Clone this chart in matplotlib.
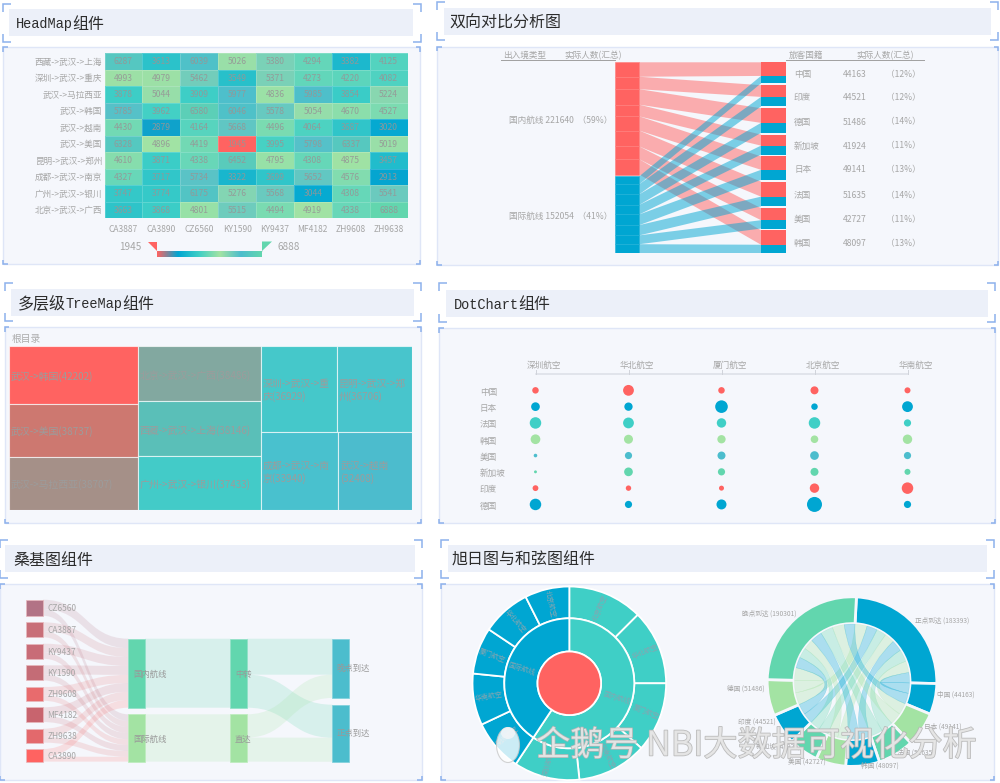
import numpy as np
import matplotlib
matplotlib.use('Agg')
import matplotlib.pyplot as plt
from matplotlib.colors import LinearSegmentedColormap
from matplotlib.patches import Rectangle, Polygon, PathPatch, Ellipse
from matplotlib.path import Path
import matplotlib.patheffects as pe

plt.rcParams['font.family'] = ['Noto Sans CJK SC', 'DejaVu Sans']

# ---------- data ----------
routes = ['西藏->武汉->上海', '深圳->武汉->重庆', '武汉->马拉西亚', '武汉->韩国', '武汉->越南',
          '武汉->美国', '昆明->武汉->郑州', '成都->武汉->南京', '广州->武汉->银川', '北京->武汉->广西']
flights = ['CA3887', 'CA3890', 'CZ6560', 'KY1590', 'KY9437', 'MF4182', 'ZH9608', 'ZH9638']
heat_values = [
    [6287, 3613, 6039, 5026, 5380, 4294, 3382, 4125],
    [4993, 4979, 5462, 3549, 5371, 4273, 4220, 4082],
    [3878, 5044, 3909, 5977, 4836, 5985, 3854, 5224],
    [5785, 3962, 6580, 6046, 5578, 5054, 4670, 4527],
    [4430, 2879, 4164, 5668, 4496, 4064, 3687, 3020],
    [6328, 4896, 4419, 1945, 3995, 5798, 6337, 5019],
    [4610, 3871, 4338, 6452, 4795, 4308, 4875, 3457],
    [4327, 3717, 5734, 3322, 3699, 5652, 4576, 2913],
    [3747, 3774, 6175, 5276, 5568, 3044, 4308, 5541],
    [3663, 3868, 4801, 5515, 4494, 4919, 4338, 6888],
]
countries = ['中国', '印度', '德国', '新加坡', '日本', '法国', '美国', '韩国']
country_domestic = [28540, 24570, 30640, 23058, 28050, 31359, 25258, 30165]
country_intl = [15623, 19951, 20846, 18866, 21091, 20276, 17469, 17932]
entry_types = ['国内航线', '国际航线']

tree_col1 = ['武汉->韩国', '武汉->美国', '武汉->马拉西亚']
tree_col1_vals = [42202, 38737, 38707]
tree_col2 = ['北京->武汉->广西', '西藏->武汉->上海', '广州->武汉->银川']
tree_col2_vals = [38486, 38146, 37433]
tree_top = ['深圳->武汉->重\n庆', '昆明->武汉->郑\n州']
tree_top_vals = [36929, 36706]
tree_bot = ['成都->武汉->南\n京', '武汉->越南\n']
tree_bot_vals = [33940, 32408]

airlines = ['深圳航空', '华北航空', '厦门航空', '北京航空', '华南航空']
dot_countries = ['中国', '日本', '法国', '韩国', '美国', '新加坡', '印度', '德国']
dot_values = [
    [6500, 10800, 6500, 8000, 6000],
    [8700, 8300, 12600, 6500, 10800],
    [11500, 10800, 9400, 11500, 7200],
    [9700, 9000, 8300, 7600, 9400],
    [3600, 7200, 8000, 8700, 7200],
    [2900, 8700, 7200, 8000, 6000],
    [5800, 5400, 5000, 9400, 11500],
    [11500, 7200, 10000, 15000, 7200],
]

sankey_flights = ['CZ6560', 'CA3887', 'KY9437', 'KY1590', 'ZH9608', 'MF4182', 'ZH9638', 'CA3890']
sankey_domestic = [30500, 28400, 28500, 28800, 26200, 28000, 26400, 24840]
sankey_totals = [51621, 48048, 48212, 48776, 44247, 47391, 44796, 40603]
transfer_types = ['中转', '直达']
arrival_types = ['晚点到达', '正点到达']
transfer_to_arrival = [[115600, 106040], [74701, 77353]]

sun_teal = [46712, 46712, 43598, 43598, 41020]
sun_blue = [32491, 32180, 29065, 30519, 27799]
sun_teal_names = ['北京航空', '华北航空', '厦门航空', '华南航空', '深圳航空']
sun_blue_names = ['深圳航空', '华南航空', '厦门航空', '华北航空', '北京航空']

chord_names = ['正点到达', '中国', '日本', '法国', '韩国', '美国', '新加坡', '印度', '德国', '晚点到达']
chord_values = [183393, 44163, 49141, 51635, 48097, 42727, 41924, 44521, 51486, 190301]
chord_ontime = [21700, 24100, 25300, 23600, 21000, 20500, 21900, 25293]

# ---------- style ----------
W, H = 1000, 783
RED, BLUE, TEAL, GREEN, STEEL, MINT = '#ff6361', '#00a6d2', '#3fcfc6', '#a3e3a3', '#4cbdcd', '#62d6ae'
BRACKET = '#8db1ec'
TXT = '#a6a6a6'
fig = plt.figure(figsize=(W / 100, H / 100), dpi=100, facecolor='white')


def pxax(x0, y0, x1, y1, xlim=None, ylim=None, z=2):
    ax = fig.add_axes([x0 / W, 1 - y1 / H, (x1 - x0) / W, (y1 - y0) / H], zorder=z)
    ax.set_axis_off()
    ax.patch.set_visible(False)
    ax.set_xlim(*(xlim if xlim else (x0, x1)))
    ax.set_ylim(*(ylim if ylim else (y1, y0)))
    return ax


bg = pxax(0, 0, W, H, z=0)
top = pxax(0, 0, W, H, z=10)


def brackets(x0, y0, x1, y1, arm):
    for (cx, cy, sx, sy) in [(x0, y0, 1, 1), (x1, y0, -1, 1), (x0, y1, 1, -1), (x1, y1, -1, -1)]:
        bg.plot([cx + sx * arm, cx, cx], [cy, cy, cy + sy * arm], color=BRACKET, lw=1.1, solid_capstyle='butt',
                solid_joinstyle='miter', zorder=5)


def runs_text(x, y, runs):
    rend = fig.canvas.get_renderer()
    for s, fam, size in runs:
        t = bg.text(x, y, s, family=fam, fontsize=size, color='#2c2c2c', va='center', ha='left', zorder=6)
        x = t.get_window_extent(rend).x1


CJK = 'Noto Sans CJK SC'
MONO = 'Liberation Mono'
panels = [
    ((9, 9, 413, 36), (2.5, 3.5, 420.5, 42), (3, 47, 420, 264), 15.5, [('HeadMap', MONO, 9.8), ('组件', CJK, 11.5)]),
    ((444, 8, 991, 35), (437, 2, 998, 40), (437, 46.5, 998, 265), 449.5, [('双向对比分析图', CJK, 11.5)]),
    ((11, 289, 414, 316), (4.5, 283, 421, 321), (4.5, 327, 421, 523), 17.5,
     [('多层级', CJK, 11.5), ('TreeMap', MONO, 9.8), ('组件', CJK, 11.5)]),
    ((446, 290, 988, 317), (439, 283, 995, 322), (439, 328, 995, 523), 453.5,
     [('DotChart', MONO, 9.8), ('组件', CJK, 11.5)]),
    ((5, 545, 415, 572), (0, 539.7, 421.5, 578), (0, 584, 421.5, 780), 13, [('桑基图组件', CJK, 11.5)]),
    ((448, 545, 987, 572), (441, 540, 994, 578), (441, 584, 994, 780), 451.5, [('旭日图与和弦图组件', CJK, 11.5)]),
]
for tb, br, ct, tx, runs in panels:
    bg.add_patch(Rectangle((tb[0], tb[1]), tb[2] - tb[0], tb[3] - tb[1], fc='#ecf0f9', ec='none'))
    bg.add_patch(Rectangle((ct[0], ct[1]), ct[2] - ct[0], ct[3] - ct[1], fc='#f5f7fc', ec='#dfe6f7', lw=1))
    brackets(*br, 8)
    brackets(*ct, 4.5)
    runs_text(tx, (tb[1] + tb[3]) / 2 + 1.5, runs)

# ---------- heat map ----------
heat = np.array(heat_values)
vmin, vmax = heat.min(), heat.max()
heat_cmap = LinearSegmentedColormap.from_list('heat', [RED, BLUE, TEAL, GREEN, STEEL, MINT])
ax = pxax(104.5, 53, 407.5, 218, xlim=(0, len(flights)), ylim=(len(routes), 0))
ax.pcolormesh(np.arange(len(flights) + 1), np.arange(len(routes) + 1), heat, cmap=heat_cmap, vmin=vmin, vmax=vmax,
              edgecolors=(1, 1, 1, 0.18), linewidth=0.5)
for r, row in enumerate(heat):
    for c, v in enumerate(row):
        ax.text(c + .5, r + .52, str(v), ha='center', va='center', fontsize=6.2, color='#969696', alpha=.9)
    ax.text(-0.06, r + .56, routes[r], ha='right', va='center', fontsize=6.2, color=TXT, clip_on=False)
for c, f in enumerate(flights):
    ax.text(c + .5, len(routes) + .68, f, ha='center', va='center', fontsize=6.1, color=TXT, clip_on=False)
lg = pxax(157, 251, 262, 257.5)
lg.imshow(np.linspace(0, 1, 256)[None, :], cmap=heat_cmap, aspect='auto', extent=(157, 262, 257.5, 251))
lg.set_xlim(157, 262); lg.set_ylim(257.5, 251)
bg.add_patch(Polygon([(147.5, 241.5), (157, 241.5), (157, 251)], fc=RED, ec='none', zorder=3))
bg.add_patch(Polygon([(262, 241.5), (272, 241.5), (262, 251)], fc=MINT, ec='none', zorder=3))
bg.plot([157, 262], [251, 251], color='#d9dbe0', lw=.6, zorder=3)
bg.text(142, 246.5, str(vmin), ha='right', va='center', fontsize=7.2, color=TXT, zorder=6)
bg.text(277, 246.5, str(vmax), ha='left', va='center', fontsize=7.2, color=TXT, zorder=6)

# ---------- two-way comparison ----------
dom = np.array(country_domestic); intl = np.array(country_intl)
total = dom + intl
grand = total.sum()
ax = pxax(614.8, 62.3, 785.5, 253.3)
LX0, LX1, RX0, RX1 = 614.8, 639.3, 761, 785.5
y_top, y_bot = 62.3, 253.3
l_scale = (y_bot - y_top - 1.8) / grand
r_gap = 1.8
r_scale = (y_bot - y_top - r_gap * (len(total) - 1)) / grand
ly_red = y_top + np.concatenate([[0], np.cumsum(dom)]) * l_scale
ly_blue = ly_red[-1] + 1.8 + np.concatenate([[0], np.cumsum(intl)]) * l_scale
ry0 = y_top + np.concatenate([[0], np.cumsum(total)[:-1]]) * r_scale + np.arange(len(total)) * r_gap
ry1 = ry0 + dom * r_scale
ry2 = ry1 + intl * r_scale
for i in range(len(total)):
    ax.add_patch(Polygon([(LX1, ly_red[i]), (RX0, ry0[i]), (RX0, ry1[i]), (LX1, ly_red[i + 1])],
                         fc=RED, alpha=.5, ec='none', zorder=1))
for i in range(len(total)):
    ax.add_patch(Polygon([(LX1, ly_blue[i]), (RX0, ry1[i]), (RX0, ry2[i]), (LX1, ly_blue[i + 1])],
                         fc=BLUE, alpha=.5, ec='none', zorder=2))
for i in range(len(total)):
    ax.add_patch(Rectangle((LX0, ly_red[i]), LX1 - LX0, ly_red[i + 1] - ly_red[i], fc=RED, ec='#ff7d7b', lw=.4, zorder=3))
    ax.add_patch(Rectangle((LX0, ly_blue[i]), LX1 - LX0, ly_blue[i + 1] - ly_blue[i], fc=BLUE, ec='#1bb0d8', lw=.4, zorder=3))
    ax.add_patch(Rectangle((RX0, ry0[i]), RX1 - RX0, ry1[i] - ry0[i], fc=RED, ec='none', zorder=3))
    ax.add_patch(Rectangle((RX0, ry1[i]), RX1 - RX0, ry2[i] - ry1[i], fc=BLUE, ec='none', zorder=3))
    yc = (ry0[i] + ry2[i]) / 2 + 1.5
    top.text(794, yc, countries[i], ha='left', va='center', fontsize=6.2, color=TXT)
    top.text(843, yc, str(total[i]), ha='left', va='center', fontsize=6.2, color=TXT)
    top.text(886, yc, '（%d%%）' % round(total[i] / grand * 100), ha='left', va='center', fontsize=6.2, color=TXT)
for name, vals, yc in zip(entry_types, [dom, intl], [(ly_red[0] + ly_red[-1]) / 2, (ly_blue[0] + ly_blue[-1]) / 2]):
    s = vals.sum()
    top.text(509, yc + 1.5, '%s %d  （%d%%）' % (name, s, round(s / grand * 100)), ha='left', va='center', fontsize=6.2, color=TXT)
for s, x in [('出入境类型', 525), ('实际人数(汇总)', 593), ('旅客国籍', 806), ('实际人数(汇总)', 885.5)]:
    top.text(x, 55.5, s, ha='center', va='center', fontsize=6.2, color=TXT)
top.plot([501, 615], [60.3, 60.3], color='#a0a0a0', lw=.7)
top.plot([785.5, 923.5], [60.3, 60.3], color='#a0a0a0', lw=.7)

# ---------- tree map ----------
ax = pxax(8.5, 346, 412, 510, xlim=(0, 1), ylim=(1, 0))
tree_total = sum(tree_col1_vals) + sum(tree_col2_vals) + sum(tree_top_vals) + sum(tree_bot_vals)
tree_colors = ['#ff6361', '#cd7870', '#a59088', '#82a8a0', '#5abfb8', '#43cbc8', '#45c8ca', '#48c5cc', '#49c1ce', '#4cbccd']
cells = []
x = 0
for names, vals in [(tree_col1, tree_col1_vals), (tree_col2, tree_col2_vals)]:
    w = sum(vals) / tree_total
    y = 0
    for n, v in zip(names, vals):
        h = v / sum(vals)
        cells.append((x, y, w, h, n, v))
        y += h
    x += w
w_rest = 1 - x
y = 0
for names, vals in [(tree_top, tree_top_vals), (tree_bot, tree_bot_vals)]:
    h = sum(vals) / (sum(tree_top_vals) + sum(tree_bot_vals))
    xx = x
    for n, v in zip(names, vals):
        w = v / sum(vals) * w_rest
        cells.append((xx, y, w, h, n, v))
        xx += w
    y += h
for (cx, cy, cw, ch, n, v), col in zip(cells, tree_colors):
    ax.add_patch(Rectangle((cx, cy), cw, ch, fc=col, ec=(1, 1, 1, .65), lw=.8))
    label = n + '(%d)' % v
    ax.text(cx + 2 / 403.5, cy + ch / 2 + 1.5 / 164, label, ha='left', va='center', fontsize=7.1, color='#9c9c9c', linespacing=1.25)
top.text(12, 339, '根目录', ha='left', va='center', fontsize=7, color='#ababab')

# ---------- dot chart ----------
rowcol = [RED, BLUE, TEAL, GREEN, STEEL, MINT, RED, BLUE]
ax = pxax(490, 382, 950, 513, xlim=(-.489, 4.457), ylim=(7.525, -.512))
dots = np.array(dot_values)
for r in range(len(dot_countries)):
    ax.scatter(np.arange(len(airlines)), np.full(len(airlines), r), s=(dots[r] / 1000 * .72) ** 2, color=rowcol[r],
               linewidths=0, clip_on=False)
    ax.text(-.60, r + .11, dot_countries[r], ha='left', va='center', fontsize=6.2, color=TXT)
hx = np.linspace(535.7, 908, len(airlines))
top.plot([hx[0], hx[-1]], [373.7, 373.7], color='#dcdfe6', lw=1.1)
for xx, name in zip(hx, airlines):
    top.plot([xx, xx], [369.5, 373.7], color='#d0d3da', lw=.7)
    top.text(xx + 8, 365, name, ha='center', va='center', fontsize=6.2, color=TXT)

# ---------- sankey ----------
sk_totals = np.array(sankey_totals); sk_dom = np.array(sankey_domestic); sk_int = sk_totals - sk_dom
ax = pxax(0, 584, 421.5, 780)
src_y0 = [599.7, 622.3, 643.7, 665.3, 687, 707.3, 728.7, 749]
sk_scale = 69.0 / sk_dom.sum()
src_colors = ['#b27385', '#c86f78', '#c86c77', '#c46c76', '#e86b6d', '#c8646e', '#e3696c', RED]


def band(ax, x0, y0a, y0b, x1, y1a, y1b, color, alpha, z=1):
    xm = (x0 + x1) / 2
    verts = [(x0, y0a), (xm, y0a), (xm, y1a), (x1, y1a), (x1, y1b), (xm, y1b), (xm, y0b), (x0, y0b), (x0, y0a)]
    codes = [Path.MOVETO, Path.CURVE4, Path.CURVE4, Path.CURVE4, Path.LINETO, Path.CURVE4, Path.CURVE4, Path.CURVE4, Path.CLOSEPOLY]
    ax.add_patch(PathPatch(Path(verts, codes), fc=color, alpha=alpha, ec='none', zorder=z))


C0 = (26.3, 43); C1 = (128.3, 145); C2 = (230.3, 247); C3 = (332.3, 349)
dom_top, int_top = 638.7, 714.3
dom_cur, int_cur = dom_top, int_top
for i, name in enumerate(sankey_flights):
    y0 = src_y0[i]
    h = sk_totals[i] * sk_scale
    ax.add_patch(Rectangle((C0[0], y0), C0[1] - C0[0], h, fc=src_colors[i], ec='#e8b8bc', lw=.5, zorder=3))
    top.text(47.3, y0 + h / 2 + 1, name, ha='left', va='center', fontsize=6, color=TXT)
    h_d = sk_dom[i] * sk_scale
    h_i = sk_int[i] * sk_scale
    band(ax, C0[1], y0, y0 + h_d, C1[0], dom_cur, dom_cur + h_d, src_colors[i], .17)
    band(ax, C0[1], y0 + h_d, y0 + h, C1[0], int_cur, int_cur + h_i, src_colors[i], .17)
    dom_cur += h_d
    int_cur += h_i
for x, nm, cols in [(C1, entry_types, None), (C2, transfer_types, None)]:
    ax.add_patch(Rectangle((x[0], dom_top), x[1] - x[0], dom_cur - dom_top, fc=MINT, ec='#8ee0c5', lw=.5, zorder=3))
    ax.add_patch(Rectangle((x[0], int_top), x[1] - x[0], int_cur - int_top, fc=GREEN, ec='#bcecbc', lw=.5, zorder=3))
    top.text(x[0] + 4.5, (dom_top + dom_cur) / 2 + 1, nm[0], ha='left', va='center', fontsize=6, color='#999999')
    top.text(x[0] + 4.5, (int_top + int_cur) / 2 + 1, nm[1], ha='left', va='center', fontsize=6, color='#999999')
band(ax, C1[1], dom_top, dom_cur, C2[0], dom_top, dom_cur, MINT, .2)
band(ax, C1[1], int_top, int_cur, C2[0], int_top, int_cur, GREEN, .2)
ta = np.array(transfer_to_arrival)
arr_tops = [638.7, 704.7]
h = ta * sk_scale
ax.add_patch(Rectangle((C3[0], arr_tops[0]), C3[1] - C3[0], h[:, 0].sum(), fc=STEEL, ec='#7dd0db', lw=.5, zorder=3))
ax.add_patch(Rectangle((C3[0], arr_tops[1]), C3[1] - C3[0], h[:, 1].sum(), fc=STEEL, ec='#7dd0db', lw=.5, zorder=3))
band(ax, C2[1], dom_top, dom_top + h[0, 0], C3[0], arr_tops[0], arr_tops[0] + h[0, 0], MINT, .2)
band(ax, C2[1], dom_top + h[0, 0], dom_cur, C3[0], arr_tops[1], arr_tops[1] + h[0, 1], MINT, .2)
band(ax, C2[1], int_top, int_top + h[1, 0], C3[0], arr_tops[0] + h[0, 0], arr_tops[0] + h[:, 0].sum(), GREEN, .2)
band(ax, C2[1], int_top + h[1, 0], int_cur, C3[0], arr_tops[1] + h[0, 1], arr_tops[1] + h[:, 1].sum(), GREEN, .2)
top.text(336.7, arr_tops[0] + h[:, 0].sum() / 2 + .5, arrival_types[0], ha='left', va='center', fontsize=6, color='#999999')
top.text(336.7, arr_tops[1] + h[:, 1].sum() / 2 + .5, arrival_types[1], ha='left', va='center', fontsize=6, color='#999999')

# ---------- sunburst ----------
R = 96.8
cx, cy = 569.3, 683.3
ax = pxax(cx - R - 2, cy - R - 2, cx + R + 2, cy + R + 2, xlim=(-R - 2, R + 2), ylim=(-R - 2, R + 2))
wp = dict(edgecolor='white', linewidth=1.3)
outer = sun_teal + sun_blue
ax.pie(outer, radius=96.8, colors=[TEAL] * 5 + [BLUE] * 5, startangle=90, counterclock=False,
       wedgeprops=dict(width=96.8 - 65, **wp))
ax.pie([sum(sun_teal), sum(sun_blue)], radius=65, colors=[TEAL, BLUE], startangle=90, counterclock=False,
       wedgeprops=dict(width=65 - 31.8, **wp))
ax.pie([1], radius=31.8, colors=[RED], startangle=90, wedgeprops=wp)
ax.set_xlim(-R - 2, R + 2); ax.set_ylim(-R - 2, R + 2)
ax.set_aspect('equal')


def radial(ax, r, cw_deg, s, **kw):
    th = np.deg2rad(90 - cw_deg)
    rot = np.rad2deg(th)
    if np.cos(th) < 0:
        rot += 180
    ax.text(r * np.cos(th), r * np.sin(th), s, rotation=rot, rotation_mode='anchor', ha='center', va='center',
            fontsize=5, color='#86a5b0', **kw)


ang = np.cumsum([0] + outer) / sum(outer) * 360
for nm, a0, a1 in zip(sun_teal_names + sun_blue_names, ang[:-1], ang[1:]):
    radial(ax, 82, (a0 + a1) / 2, nm)
split = sum(sun_teal) / sum(outer) * 360
radial(ax, 50, split / 2, entry_types[0])
radial(ax, 50, (split + 360) / 2, entry_types[1])

# ---------- chord ----------
R2, r2 = 84.8, 58
cx2, cy2 = 852, 681.6
START = 3
ax = pxax(cx2 - R2 - 1, cy2 - R2 - 1, cx2 + R2 + 1, cy2 + R2 + 1, xlim=(-R2 - 1, R2 + 1), ylim=(-R2 - 1, R2 + 1))
chord_colors = [BLUE, BLUE, GREEN, MINT, BLUE, GREEN, MINT, BLUE, GREEN, MINT]
ax.pie(chord_values, radius=R2, colors=chord_colors, startangle=90 - START, counterclock=False,
       wedgeprops=dict(width=R2 - r2, edgecolor='#f5f7fc', linewidth=2))
ax.set_xlim(-R2 - 1, R2 + 1); ax.set_ylim(-R2 - 1, R2 + 1)
ax.set_aspect('equal')
cv = np.array(chord_values, float)
edges = START + np.concatenate([[0], np.cumsum(cv)]) / cv.sum() * 360
per_unit = 360 / cv.sum()


def pt(deg, r):
    t = np.deg2rad(90 - deg)
    return r * np.cos(t), r * np.sin(t)


def ribbon(a0, a1, b0, b1, col):
    rr = r2 - .5
    v = [pt(a, rr) for a in np.linspace(a0, a1, 12)]
    c = [Path.MOVETO] + [Path.LINETO] * 11
    v += [(0, 0), pt(b0, rr)]
    c += [Path.CURVE3, Path.CURVE3]
    v += [pt(a, rr) for a in np.linspace(b0, b1, 12)[1:]]
    c += [Path.LINETO] * 11
    v += [(0, 0), pt(a0, rr)]
    c += [Path.CURVE3, Path.CURVE3]
    ax.add_patch(PathPatch(Path(v, c), fc=col, alpha=.3, ec=col, lw=.3, zorder=3))


ontime = np.array(chord_ontime, float)
country_tot = cv[1:9]
late = country_tot - ontime
a_on = edges[0]
a_late = edges[9]
for i in range(7, -1, -1):
    seg0 = edges[i + 1]
    mid = seg0 + ontime[i] * per_unit
    seg1 = edges[i + 2]
    ribbon(seg0, mid, a_on, a_on + ontime[i] * per_unit, chord_colors[i + 1])
    ribbon(mid, seg1, a_late, a_late + late[i] * per_unit, chord_colors[i + 1])
    a_on += ontime[i] * per_unit
    a_late += late[i] * per_unit
label_anchor = [(915, 620.5, 'left'), (937, 695, 'left'), (924, 727, 'left'), (897, 753, 'left'), (861, 766, 'left'),
                (826, 763, 'right'), (800, 747, 'right'), (776, 723, 'right'), (765, 689, 'right'), (796, 613.5, 'right')]
for (n, v), (lx, ly, la) in zip(zip(chord_names, chord_values), label_anchor):
    top.text(lx, ly, '%s (%d)' % (n, v), ha=la, va='center', fontsize=4.8, color=TXT)

# ---------- watermark ----------
top.add_patch(Ellipse((508, 745), 23, 35, fc='white', ec='#c8c8c8', lw=.8, alpha=.8, zorder=4))
top.add_patch(Ellipse((508, 733), 14, 12, fc='#f4f6f8', ec='none', alpha=.8, zorder=4))
wm = top.text(536, 746, '企鹅号 NBI大数据可视化分析', ha='left', va='center', fontsize=24.6, color='#e6e6e6', alpha=.9, zorder=5)
wm.set_path_effects([pe.withStroke(linewidth=1.1, foreground='#b4b4b4')])

fig.savefig('out.png', dpi=100)
